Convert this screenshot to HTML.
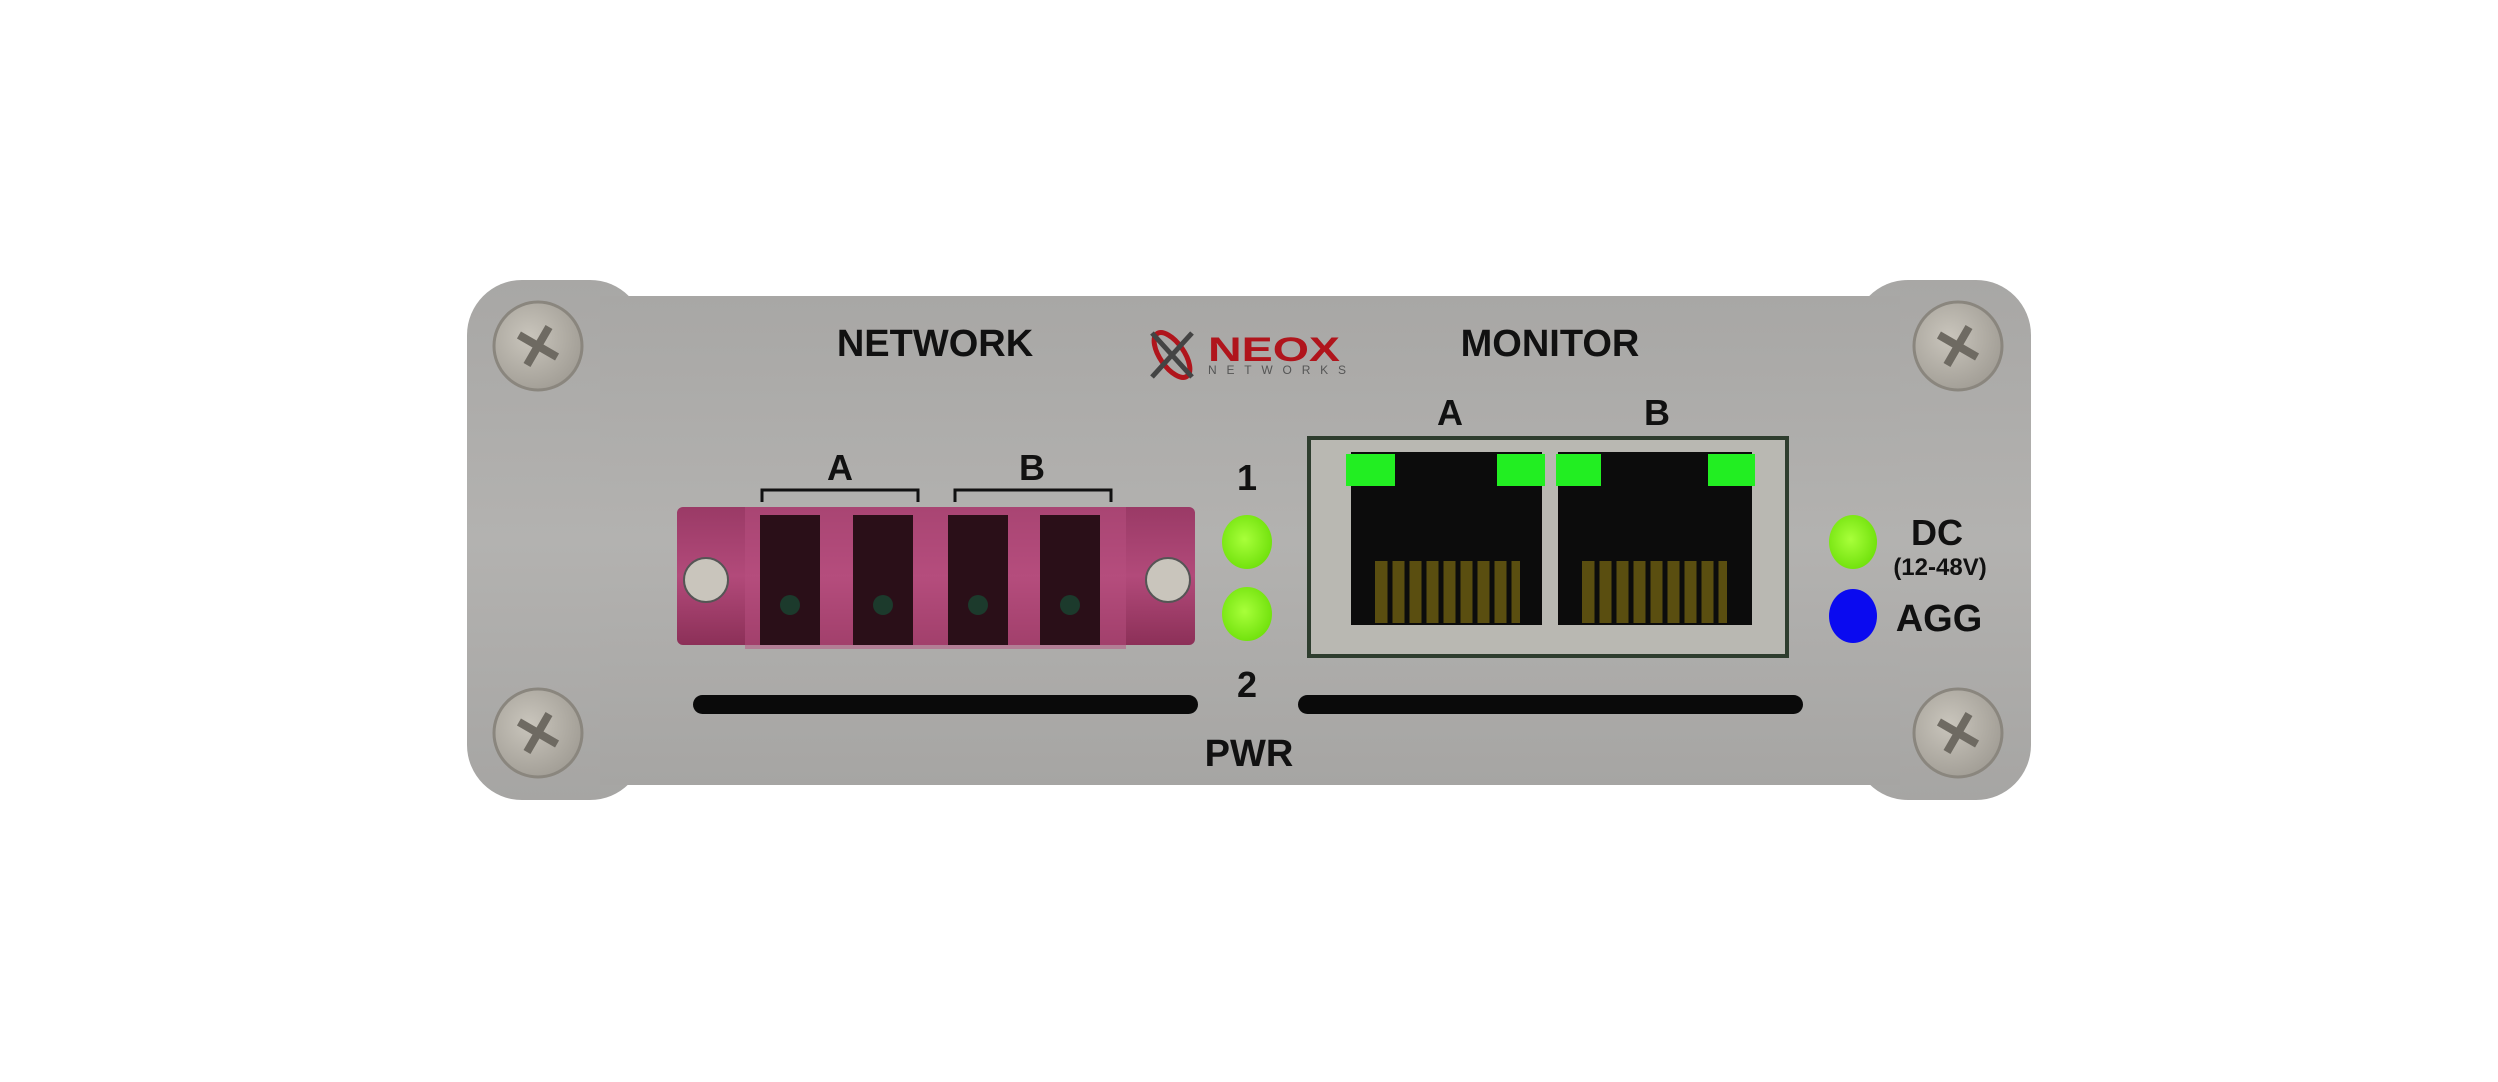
<!DOCTYPE html>
<html><head><meta charset="utf-8"><style>
html,body{margin:0;padding:0;background:#fff;}
svg{display:block}
text{font-family:"Liberation Sans",sans-serif;font-weight:bold;fill:#111}
</style></head><body>
<svg width="2498" height="1082" viewBox="0 0 2498 1082" xmlns="http://www.w3.org/2000/svg">
<defs>
<linearGradient id="pg" x1="0" y1="0" x2="0" y2="1">
<stop offset="0" stop-color="#a8a7a5"/><stop offset="0.5" stop-color="#b3b2b0"/><stop offset="1" stop-color="#a6a5a3"/>
</linearGradient>
<radialGradient id="sc" cx="0.4" cy="0.4" r="0.7">
<stop offset="0" stop-color="#c9c5bc"/><stop offset="1" stop-color="#9e9a92"/>
</radialGradient>
<linearGradient id="fc" x1="0" y1="0" x2="0" y2="1">
<stop offset="0" stop-color="#9a3a66"/><stop offset="0.5" stop-color="#b24a7a"/><stop offset="1" stop-color="#8c3058"/>
</linearGradient>
<radialGradient id="led" cx="0.45" cy="0.45" r="0.6">
<stop offset="0" stop-color="#a8ff3a"/><stop offset="1" stop-color="#6ee00a"/>
</radialGradient>
</defs>
<rect x="467" y="280" width="178" height="520" rx="55" fill="url(#pg)"/>
<rect x="1853" y="280" width="178" height="520" rx="55" fill="url(#pg)"/>
<rect x="600" y="296" width="1300" height="489" fill="url(#pg)"/>
<g fill="url(#sc)" stroke="#8a867e" stroke-width="3">
<circle cx="538" cy="346" r="44"/><circle cx="1958" cy="346" r="44"/>
<circle cx="538" cy="733" r="44"/><circle cx="1958" cy="733" r="44"/>
</g>
<g fill="#6e6a62">
<g transform="translate(538,346) rotate(30)"><rect x="-4" y="-22" width="8" height="44"/><rect x="-22" y="-4" width="44" height="8"/></g>
<g transform="translate(1958,346) rotate(30)"><rect x="-4" y="-22" width="8" height="44"/><rect x="-22" y="-4" width="44" height="8"/></g>
<g transform="translate(538,733) rotate(30)"><rect x="-4" y="-22" width="8" height="44"/><rect x="-22" y="-4" width="44" height="8"/></g>
<g transform="translate(1958,733) rotate(30)"><rect x="-4" y="-22" width="8" height="44"/><rect x="-22" y="-4" width="44" height="8"/></g>
</g>
<text x="935" y="356" font-size="38" text-anchor="middle">NETWORK</text>
<text x="1550" y="356" font-size="38" text-anchor="middle">MONITOR</text>
<g>
<ellipse cx="1172" cy="355" rx="12" ry="26" transform="rotate(-35 1172 355)" fill="none" stroke="#b0151c" stroke-width="5"/>
<path d="M1152 333 L1192 377 M1192 333 L1152 377" stroke="#444" stroke-width="5"/>
<text x="1208" y="361" font-size="34" style="fill:#b0151c" textLength="132" lengthAdjust="spacingAndGlyphs">NEOX</text>
<text x="1208" y="374" font-size="12" style="fill:#555;font-weight:normal" textLength="138">NETWORKS</text>
</g>
<text x="840" y="480" font-size="36" text-anchor="middle">A</text>
<text x="1032" y="480" font-size="36" text-anchor="middle">B</text>
<path d="M762 502 V490 H918 V502 M955 502 V490 H1111 V502" fill="none" stroke="#111" stroke-width="3"/>
<rect x="677" y="507" width="518" height="138" rx="6" fill="url(#fc)"/>
<rect x="745" y="507" width="381" height="142" fill="#b8507f" opacity="0.5"/>
<g fill="#2a0f18">
<rect x="760" y="515" width="60" height="130"/><rect x="853" y="515" width="60" height="130"/>
<rect x="948" y="515" width="60" height="130"/><rect x="1040" y="515" width="60" height="130"/>
</g>
<g fill="#1c3a2c"><circle cx="790" cy="605" r="10"/><circle cx="883" cy="605" r="10"/><circle cx="978" cy="605" r="10"/><circle cx="1070" cy="605" r="10"/></g>
<circle cx="706" cy="580" r="22" fill="#c9c5bc" stroke="#555" stroke-width="2"/>
<circle cx="1168" cy="580" r="22" fill="#c9c5bc" stroke="#555" stroke-width="2"/>
<text x="1247" y="490" font-size="36" text-anchor="middle">1</text>
<ellipse cx="1247" cy="542" rx="25" ry="27" fill="url(#led)"/>
<ellipse cx="1247" cy="614" rx="25" ry="27" fill="url(#led)"/>
<text x="1247" y="697" font-size="36" text-anchor="middle">2</text>
<text x="1249" y="766" font-size="38" text-anchor="middle">PWR</text>
<text x="1450" y="425" font-size="36" text-anchor="middle">A</text>
<text x="1657" y="425" font-size="36" text-anchor="middle">B</text>
<rect x="1309" y="438" width="478" height="218" fill="#b9b8b2" stroke="#2e3d2e" stroke-width="4"/>
<rect x="1351" y="452" width="191" height="173" fill="#0c0c0c"/>
<rect x="1558" y="452" width="194" height="173" fill="#0c0c0c"/>
<g fill="#5a4e10">
<rect x="1375" y="561" width="145" height="62"/><rect x="1582" y="561" width="145" height="62"/>
</g>
<g stroke="#0c0c0c" stroke-width="5">
<path d="M1390 561V625M1407 561V625M1424 561V625M1441 561V625M1458 561V625M1475 561V625M1492 561V625M1509 561V625"/>
<path d="M1597 561V625M1614 561V625M1631 561V625M1648 561V625M1665 561V625M1682 561V625M1699 561V625M1716 561V625"/>
</g>
<g fill="#22ee22">
<rect x="1346" y="454" width="49" height="32"/><rect x="1497" y="454" width="48" height="32"/>
<rect x="1556" y="454" width="45" height="32"/><rect x="1708" y="454" width="47" height="32"/>
</g>
<ellipse cx="1853" cy="542" rx="24" ry="27" fill="url(#led)"/>
<ellipse cx="1853" cy="616" rx="24" ry="27" fill="#0a0af0"/>
<text x="1937" y="545" font-size="36" text-anchor="middle">DC</text>
<text x="1940" y="575" font-size="24" text-anchor="middle">(12-48V)</text>
<text x="1939" y="631" font-size="38" text-anchor="middle">AGG</text>
<rect x="693" y="695" width="505" height="19" rx="9.5" fill="#0a0a0a"/>
<rect x="1298" y="695" width="505" height="19" rx="9.5" fill="#0a0a0a"/>
</svg>
</body></html>
